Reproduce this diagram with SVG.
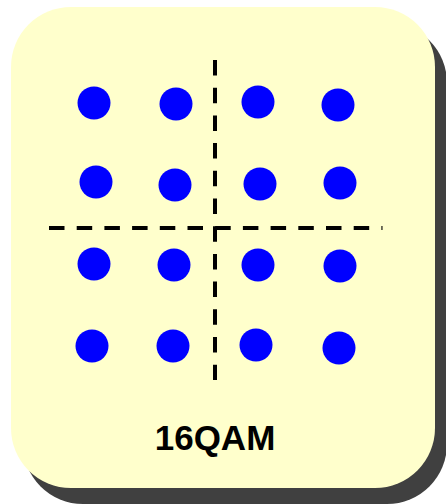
<svg xmlns="http://www.w3.org/2000/svg" width="446" height="504" viewBox="0 0 446 504">
<style>
.dot{fill:#0000ff}
.axis{stroke:#000;stroke-width:4;fill:none;stroke-dasharray:15.5 12.2}
.lbl{font-family:"Liberation Sans",Arial,sans-serif;font-weight:bold;font-size:35px;fill:#000;text-anchor:middle}
</style>
<g id="panel">
<rect x="23" y="23" width="424" height="481" rx="60" ry="60" fill="#404040"/>
<rect x="11" y="7" width="424" height="481" rx="60" ry="60" fill="#ffffcc"/>
</g>
<g id="axes">
<line class="axis" x1="49" y1="228" x2="382.5" y2="228"/>
<line class="axis" x1="215" y1="60" x2="215" y2="380"/>
</g>
<g id="points">
<circle class="dot" cx="94" cy="103" r="16.5"/>
<circle class="dot" cx="176" cy="104" r="16.5"/>
<circle class="dot" cx="258" cy="102" r="16.5"/>
<circle class="dot" cx="338" cy="105" r="16.5"/>
<circle class="dot" cx="96" cy="182" r="16.5"/>
<circle class="dot" cx="175" cy="185" r="16.5"/>
<circle class="dot" cx="260" cy="184" r="16.5"/>
<circle class="dot" cx="340" cy="183" r="16.5"/>
<circle class="dot" cx="94" cy="264" r="16.5"/>
<circle class="dot" cx="174" cy="265" r="16.5"/>
<circle class="dot" cx="258" cy="265" r="16.5"/>
<circle class="dot" cx="340" cy="266" r="16.5"/>
<circle class="dot" cx="92" cy="346" r="16.5"/>
<circle class="dot" cx="173" cy="346" r="16.5"/>
<circle class="dot" cx="256" cy="345" r="16.5"/>
<circle class="dot" cx="339" cy="348" r="16.5"/>
</g>
<g id="label">
<text class="lbl" x="215" y="450">16QAM</text>
</g>
</svg>
